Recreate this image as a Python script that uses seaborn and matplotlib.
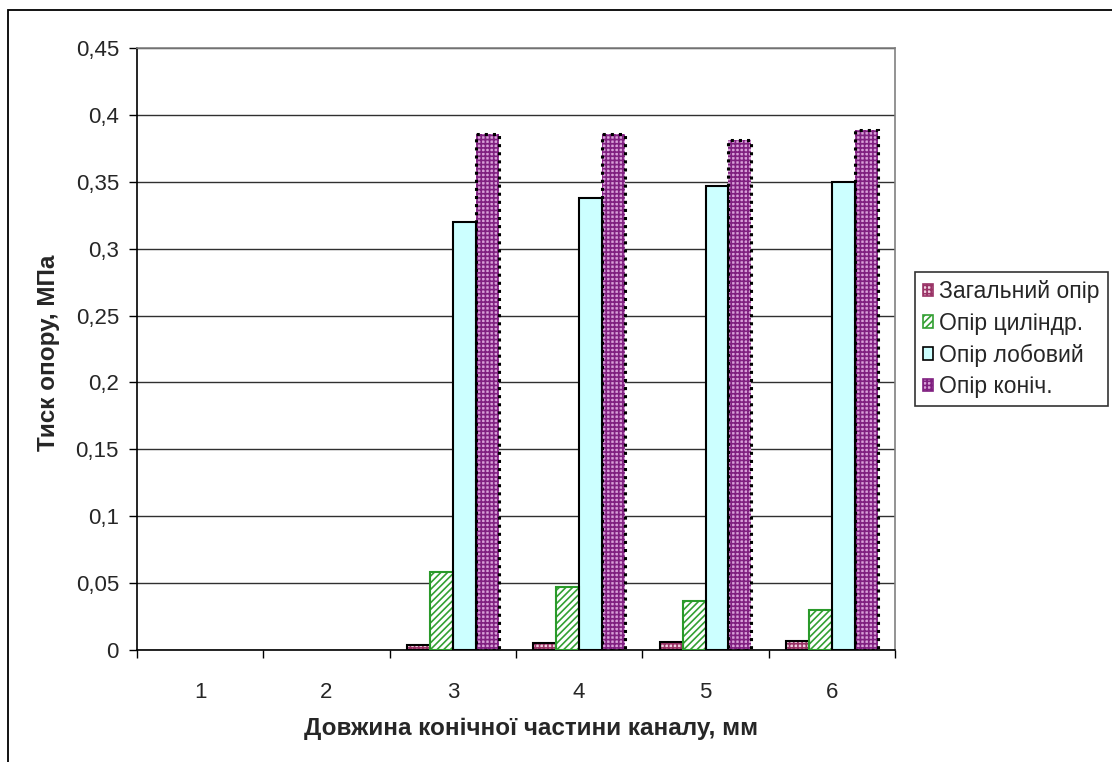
import matplotlib
matplotlib.use("Agg")
import matplotlib.pyplot as plt
import seaborn as sns
import pandas as pd
from matplotlib.patches import Rectangle, Patch

categories = ["1", "2", "3", "4", "5", "6"]
series_names = ["Загальний опір", "Опір циліндр.", "Опір лобовий", "Опір коніч."]
total_res = [0.0, 0.0, 0.004, 0.005, 0.006, 0.007]
cyl_res = [0.0, 0.0, 0.058, 0.047, 0.037, 0.030]
front_res = [0.0, 0.0, 0.320, 0.338, 0.347, 0.350]
cone_res = [0.0, 0.0, 0.386, 0.386, 0.381, 0.389]
y_ticks = [0, 0.05, 0.1, 0.15, 0.2, 0.25, 0.3, 0.35, 0.4, 0.45]
y_tick_labels = ["0", "0,05", "0,1", "0,15", "0,2", "0,25", "0,3", "0,35", "0,4", "0,45"]

rows = []
for name, vals in zip(series_names, [total_res, cyl_res, front_res, cone_res]):
    for c, v in zip(categories, vals):
        rows.append({"cat": c, "series": name, "value": v})
df = pd.DataFrame(rows)

sns.set_style("white")
plt.rcParams["font.family"] = ["Liberation Sans", "DejaVu Sans"]
plt.rcParams["hatch.linewidth"] = 1.2

fig = plt.figure(figsize=(11.12, 7.62), dpi=100)
ax = fig.add_axes([137 / 1112, 1 - 650 / 762, (895 - 137) / 1112, (650 - 48) / 762])

sns.barplot(data=df, x="cat", y="value", hue="series", order=categories,
            hue_order=series_names, width=4 / 5.5, ax=ax, legend=False,
            errorbar=None, saturation=1)

styles = [
    dict(face="#f0d0e0", hatch="++++", hcolor="#993366", edge="black", ls="-", lw=1.5),
    dict(face="white", hatch="/////", hcolor="#33a033", edge="#2a9a2a", ls="-", lw=1.5),
    dict(face="#ccffff", hatch=None, hcolor="#ccffff", edge="black", ls="-", lw=1.5),
    dict(face="#d8a0d8", hatch="++++", hcolor="#802080", edge="black", ls=":", lw=2.2),
]

for cont, st in zip(ax.containers, styles):
    for p in cont:
        p.set_facecolor(st["face"])
        p.set_edgecolor(st["hcolor"])
        p.set_linewidth(0)
        if st["hatch"]:
            p.set_hatch(st["hatch"])
        if p.get_height() > 0:
            ax.add_patch(Rectangle((p.get_x(), p.get_y()), p.get_width(), p.get_height(),
                                   fill=False, edgecolor=st["edge"], linestyle=st["ls"],
                                   linewidth=st["lw"], zorder=3))

ax.set_ylim(0, 0.45)
ax.set_xlim(-0.5, 5.5)
ax.set_yticks(y_ticks)
ax.set_yticklabels(y_tick_labels)
ax.yaxis.grid(True, color="#303030", linewidth=1)
ax.set_axisbelow(True)

ax.set_xticks([i - 0.5 for i in range(len(categories) + 1)])
ax.set_xticklabels([])
ax.set_xticks(range(len(categories)), minor=True)
ax.set_xticklabels(categories, minor=True)
ax.tick_params(axis="x", which="major", direction="out", length=6, width=1, color="black", bottom=True)
ax.tick_params(axis="x", which="minor", length=0, pad=23, labelsize=16)
ax.tick_params(axis="y", direction="out", length=6, width=1, color="black", left=True, pad=7, labelsize=16)

for s in ["left", "bottom"]:
    ax.spines[s].set_color("black")
    ax.spines[s].set_linewidth(1.2)
for s in ["top", "right"]:
    ax.spines[s].set_color("#808080")
    ax.spines[s].set_linewidth(1.2)

ax.set_xlabel("Довжина конічної частини каналу, мм", fontsize=17.5, fontweight="bold")
ax.xaxis.set_label_coords((531 - 137) / 758, -(728 - 650) / 602, transform=ax.transAxes)
ax.xaxis.label.set_va("center")
ax.set_ylabel("Тиск опору, МПа", fontsize=17.5, fontweight="bold")
ax.yaxis.set_label_coords(-(137 - 49) / 758, (650 - 353) / 602, transform=ax.transAxes)
ax.yaxis.label.set_va("center")

handles = []
for name, st in zip(series_names, styles):
    handles.append(Patch(facecolor=st["face"], edgecolor=st["edge"] if st["hatch"] is None else st["hcolor"],
                         hatch=st["hatch"], linewidth=1.2, label=name))
leg = fig.legend(handles=handles, loc="upper left", bbox_to_anchor=(915 / 1112, 1 - 272 / 762),
                 frameon=True, fancybox=False, shadow=False, fontsize=16.5,
                 handlelength=0.45, handleheight=0.45, handletextpad=0.25,
                 labelspacing=0.38, borderpad=0.35, borderaxespad=0)
leg.get_frame().set_edgecolor("black")
leg.get_frame().set_linewidth(1.2)

fig.add_artist(Rectangle((8 / 1112, -0.05), 1.1, 1.05 - 10 / 762, transform=fig.transFigure,
                         fill=False, edgecolor="black", linewidth=1.3))

fig.savefig("out.png", dpi=100)
